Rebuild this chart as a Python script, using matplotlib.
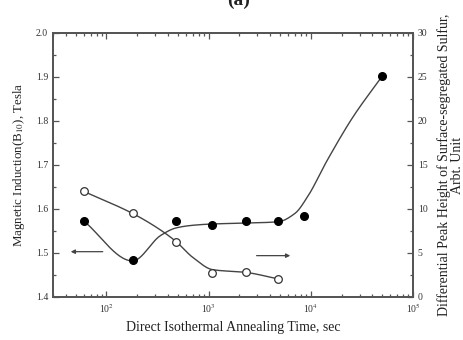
import numpy as np
import matplotlib
matplotlib.use("Agg")
import matplotlib.pyplot as plt
from matplotlib.ticker import MultipleLocator, LogLocator, FixedFormatter, NullFormatter

# Data
time_filled = [60, 180, 480, 1080, 2300, 4800, 8500, 50000]
induction = [1.573, 1.484, 1.573, 1.564, 1.573, 1.573, 1.584, 1.902]

time_open = [60, 180, 480, 1090, 2300, 4800]
sulfur = [12.0, 9.5, 6.2, 2.7, 2.8, 2.0]

# Smooth guide-curve knots
fit_filled_t = [60, 180, 340, 480, 700, 1100, 2300, 4800, 7000, 9300, 14500, 26000, 50000]
fit_filled_y = [1.573, 1.482, 1.540, 1.557, 1.563, 1.566, 1.568, 1.571, 1.590, 1.628, 1.711, 1.810, 1.902]
fit_open_t = [60, 180, 320, 480, 700, 1100, 2300, 4800]
fit_open_y = [12.0, 9.5, 7.8, 6.3, 4.5, 3.1, 2.8, 2.05]

xticks_pos = [1e2, 1e3, 1e4, 1e5]
xtick_labels = ['10$^2$', '10$^3$', '10$^4$', '10$^5$']


def pchip(x, y, xn):
    x = np.asarray(x, float); y = np.asarray(y, float)
    h = np.diff(x); d = np.diff(y) / h
    n = len(x); m = np.zeros(n)
    for k in range(1, n - 1):
        if d[k - 1] * d[k] > 0:
            w1 = 2 * h[k] + h[k - 1]; w2 = h[k] + 2 * h[k - 1]
            m[k] = (w1 + w2) / (w1 / d[k - 1] + w2 / d[k])
    m[0] = d[0]; m[-1] = d[-1]
    out = np.empty_like(xn)
    idx = np.clip(np.searchsorted(x, xn) - 1, 0, n - 2)
    for j, (xv, i) in enumerate(zip(xn, idx)):
        t = (xv - x[i]) / h[i]
        h00 = 2 * t**3 - 3 * t**2 + 1; h10 = t**3 - 2 * t**2 + t
        h01 = -2 * t**3 + 3 * t**2; h11 = t**3 - t**2
        out[j] = h00 * y[i] + h10 * h[i] * m[i] + h01 * y[i + 1] + h11 * h[i] * m[i + 1]
    return out


plt.rcParams['font.family'] = ['Liberation Serif', 'DejaVu Serif']
plt.rcParams['mathtext.fontset'] = 'stix'

fig = plt.figure(figsize=(4.64, 3.40), dpi=100)
ax = fig.add_axes([53 / 464, 1 - 297 / 340, 360 / 464, 264 / 340])
ax2 = ax.twinx()

lc = '#444444'
sc = '#555555'

lx = np.log10(fit_filled_t)
xs = np.linspace(lx[0], lx[-1], 300)
ax.plot(10**xs, pchip(lx, fit_filled_y, xs), color=lc, lw=1.0, zorder=2)
ax.plot(time_filled, induction, 'o', color='black', ms=5.5, zorder=3)

lo = np.log10(fit_open_t)
xo = np.linspace(lo[0], lo[-1], 300)
ax2.plot(10**xo, pchip(lo, fit_open_y, xo), color=lc, lw=1.0, zorder=2)
ax2.plot(time_open, sulfur, 'o', mfc='white', mec='#333333', mew=0.9, ms=5.5, zorder=3)

# arrows
ax.annotate('', xy=(42, 1.503), xytext=(98, 1.503),
            arrowprops=dict(arrowstyle='-|>', color=lc, lw=0.9, mutation_scale=6))
ax2.annotate('', xy=(6700, 4.7), xytext=(2770, 4.7),
             arrowprops=dict(arrowstyle='-|>', color=lc, lw=0.9, mutation_scale=6))

ax.set_xscale('log')
ax.set_xlim(30, 1e5)
ax.set_ylim(1.4, 2.0)
ax2.set_ylim(0, 30)

ax.xaxis.set_major_locator(matplotlib.ticker.FixedLocator(xticks_pos))
ax.xaxis.set_major_formatter(FixedFormatter(xtick_labels))
ax.xaxis.set_minor_locator(LogLocator(base=10, subs=np.arange(2, 10), numticks=20))
ax.xaxis.set_minor_formatter(NullFormatter())

ax.yaxis.set_major_locator(MultipleLocator(0.1))
ax.yaxis.set_minor_locator(MultipleLocator(0.05))
ax.yaxis.set_major_formatter(matplotlib.ticker.FormatStrFormatter('%.1f'))
ax2.yaxis.set_major_locator(MultipleLocator(5))
ax2.yaxis.set_minor_locator(MultipleLocator(2.5))

ax.tick_params(axis='both', which='both', direction='in', colors=sc, labelcolor='#333333',
               labelsize=7, top=True, width=0.9)
ax.tick_params(axis='y', which='both', right=False)
ax.tick_params(which='major', length=4)
ax.tick_params(which='minor', length=2)
ax2.tick_params(axis='y', which='both', direction='in', colors=sc, labelcolor='#333333',
                labelsize=7, width=0.9)
ax2.tick_params(which='major', length=4)
ax2.tick_params(which='minor', length=2)

for a in (ax, ax2):
    for s in a.spines.values():
        s.set_color(sc)
        s.set_linewidth(1.3)

ax.set_xlabel('Direct Isothermal Annealing Time, sec', fontsize=10, color='#222222', labelpad=4)
ax.set_ylabel('Magnetic Induction(B$_{10}$), Tesla', fontsize=9.3, color='#222222', labelpad=6)
ax2.set_ylabel('Differential Peak Height of Surface-segregated Sulfur,\nArbt. Unit',
               fontsize=10, color='#222222', labelpad=7, linespacing=0.95)

fig.text(0.515, 1 - 5 / 340, '(a)', fontsize=14, fontweight='bold', ha='center',
         va='baseline', color='#222222')

fig.savefig('out.png', dpi=100)
